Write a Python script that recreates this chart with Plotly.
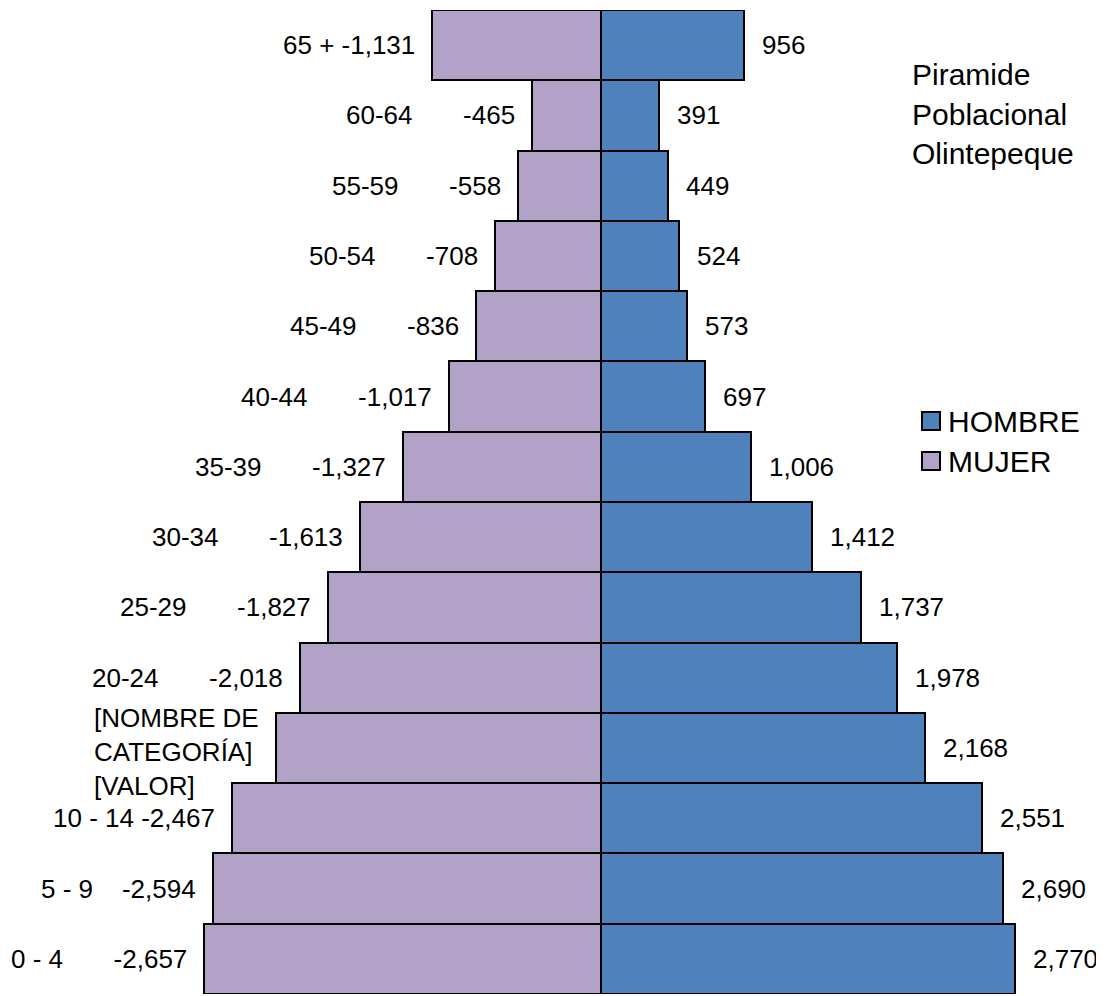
import plotly.graph_objects as go

# ---------------- data ----------------
categories = ["65 +", "60-64", "55-59", "50-54", "45-49", "40-44", "35-39",
              "30-34", "25-29", "20-24", "15-19", "10 - 14", "5 - 9", "0 - 4"]
hombre = [956, 391, 449, 524, 573, 697, 1006, 1412, 1737, 1978, 2168, 2551, 2690, 2770]
mujer = [1131, 465, 558, 708, 836, 1017, 1327, 1613, 1827, 2018, 2175, 2467, 2594, 2657]
placeholder_label = "[NOMBRE DE<br>CATEGORÍA]<br>[VALOR]"
placeholder_category = "15-19"
title_lines = ["Piramide", "Poblacional", "Olintepeque"]
series_names = ["HOMBRE", "MUJER"]

# ---------------- style ----------------
PAGE_OFFSET = 8                      # default body margin of the html page
W, H = 1104 - PAGE_OFFSET, 996 - PAGE_OFFSET
PLOT_TOP_SCREEN, PLOT_BOTTOM_SCREEN = 10, 994
ML, MR = 0, 0
MT = PLOT_TOP_SCREEN - PAGE_OFFSET
MB = H - (PLOT_BOTTOM_SCREEN - PAGE_OFFSET)
FONT = "Liberation Sans, Arial, sans-serif"
FS = 26
FS_BIG = 30
BLUE = "#4F81BD"
LAV = "#B3A2C7"
# number of non-breaking spaces between category and value in MUJER labels
label_spacing = [1, 7, 7, 7, 7, 7, 7, 7, 7, 7, 0, 1, 4, 7]

CENTER_SCREEN = 601.0
PX_PER_UNIT = 0.1494
center_fig = CENTER_SCREEN - PAGE_OFFSET
x_range = [-(center_fig - ML) / PX_PER_UNIT, (W - MR - center_fig) / PX_PER_UNIT]

def sx(px):
    """screen x pixel -> paper x"""
    return (px - PAGE_OFFSET - ML) / (W - ML - MR)

def sy(py):
    """screen y pixel -> paper y"""
    return (H - MB - (py - PAGE_OFFSET)) / (H - MT - MB)

fig = go.Figure()
fig.add_trace(go.Bar(
    y=categories, x=hombre, orientation="h", name=series_names[0],
    marker=dict(color=BLUE, line=dict(color="black", width=2)),
    showlegend=False, hoverinfo="x+y",
))
fig.add_trace(go.Bar(
    y=categories, x=[-v for v in mujer], orientation="h", name=series_names[1],
    marker=dict(color=LAV, line=dict(color="black", width=2)),
    showlegend=False, hoverinfo="x+y",
))

annotations = []
for cat, h, m, n in zip(categories, hombre, mujer, label_spacing):
    annotations.append(dict(
        x=h, y=cat, xref="x", yref="y", text=f"{h:,}", showarrow=False,
        xanchor="left", yanchor="middle", xshift=16,
        font=dict(family=FONT, size=FS, color="black"),
    ))
    if cat == placeholder_category:
        txt = placeholder_label
        align = "left"
        yshift = -4
    else:
        txt = cat + "\u00a0" * n + f"-{m:,}"
        align = "right"
        yshift = 0
    annotations.append(dict(
        x=-m, y=cat, xref="x", yref="y", text=txt, showarrow=False,
        xanchor="right", yanchor="middle", xshift=-15, yshift=yshift, align=align,
        font=dict(family=FONT, size=FS, color="black"),
    ))

# title block (top right)
title_y_px = [75, 114, 153]
for line, ypx in zip(title_lines, title_y_px):
    annotations.append(dict(
        x=sx(910), y=sy(ypx), xref="paper", yref="paper",
        text=line, showarrow=False, xanchor="left", yanchor="middle",
        font=dict(family=FONT, size=FS_BIG, color="black"),
    ))

# custom legend
shapes = []
legend_items = [(series_names[0], BLUE, 421), (series_names[1], LAV, 461)]
for name, col, ypx in legend_items:
    shapes.append(dict(
        type="rect", xref="paper", yref="paper",
        x0=sx(922), x1=sx(940),
        y0=sy(ypx + 9), y1=sy(ypx - 9),
        fillcolor=col, line=dict(color="black", width=2),
    ))
    annotations.append(dict(
        x=sx(946), y=sy(ypx), xref="paper", yref="paper",
        text=name, showarrow=False, xanchor="left", yanchor="middle",
        font=dict(family=FONT, size=FS_BIG, color="black"),
    ))

fig.update_layout(
    width=W, height=H,
    margin=dict(l=ML, r=MR, t=MT, b=MB, pad=0),
    barmode="relative", bargap=0,
    plot_bgcolor="white", paper_bgcolor="white",
    xaxis=dict(range=x_range, visible=False, fixedrange=True),
    yaxis=dict(categoryorder="array", categoryarray=categories,
               range=[len(categories) - 0.5, -0.5], visible=False),
    annotations=annotations, shapes=shapes,
    font=dict(family=FONT, size=FS, color="black"),
)

fig.write_html("out.html")
